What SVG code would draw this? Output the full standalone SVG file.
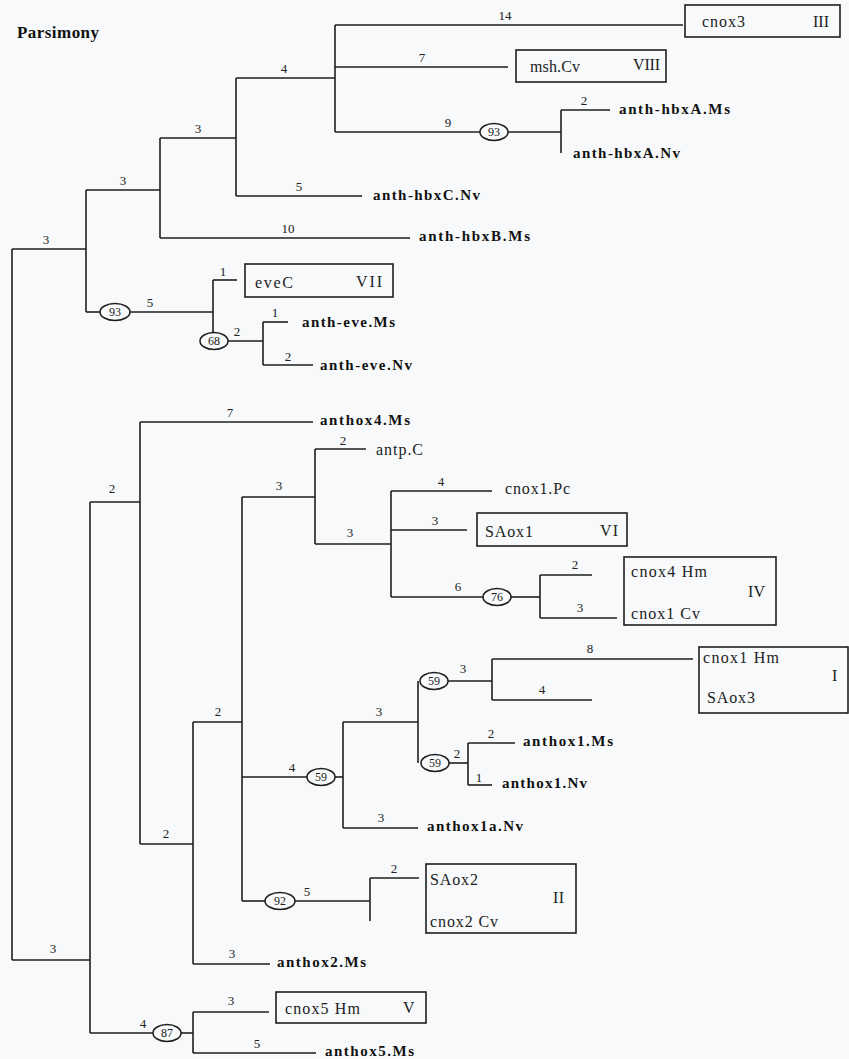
<svg xmlns="http://www.w3.org/2000/svg" width="849" height="1059" viewBox="0 0 849 1059" font-family="'Liberation Serif', 'Times New Roman', 'DejaVu Serif', serif">
<style>
.bg{fill:#f7f9fa}
.c path{stroke:#1e1e1e;stroke-width:1.6;fill:none}
text{font-family:'Liberation Serif','Times New Roman','DejaVu Serif',serif}
.n{font-size:13px;fill:#222;text-anchor:middle}
.lf{font-size:15px;font-weight:bold;fill:#111}
.tx{font-size:16px;fill:#222}
.box{fill:none;stroke:#1e1e1e;stroke-width:1.6}
.ov{fill:none;stroke:#1e1e1e;stroke-width:1.5}
.ot{font-size:12px;fill:#222;text-anchor:middle}
.title{font-size:17px;font-weight:bold;fill:#111}
</style>
<rect class="bg" x="0" y="0" width="849" height="1059"/>
<text class="title" x="17" y="38" textLength="82">Parsimony</text>

<g id="connectors" class="c">
<path d="M12,249 V960"/>
<path d="M12,249 H86"/>
<path d="M86,190 V312"/>
<path d="M86,190 H160"/>
<path d="M160,138 V238"/>
<path d="M160,138 H236"/>
<path d="M160,238 H410"/>
<path d="M236,78 V196"/>
<path d="M236,78 H335"/>
<path d="M236,196 H362"/>
<path d="M335,25 V132"/>
<path d="M335,25 H683"/>
<path d="M335,67 H508"/>
<path d="M335,132 H480"/>
<path d="M508,132 H561"/>
<path d="M561,110 V153"/>
<path d="M561,110 H610"/>
<path d="M86,312 H100"/>
<path d="M130,312 H213"/>
<path d="M213,280 V333"/>
<path d="M213,280 H237"/>
<path d="M228,341 H263"/>
<path d="M263,322 V365"/>
<path d="M263,322 H288"/>
<path d="M263,365 H313"/>
<path d="M12,960 H90"/>
<path d="M90,502 V1033"/>
<path d="M90,502 H140"/>
<path d="M140,422 V844"/>
<path d="M140,422 H313"/>
<path d="M140,844 H193"/>
<path d="M193,722 V964"/>
<path d="M193,722 H242"/>
<path d="M193,964 H270"/>
<path d="M242,497 V901"/>
<path d="M242,497 H315"/>
<path d="M315,449 V544"/>
<path d="M315,449 H366"/>
<path d="M315,544 H391"/>
<path d="M391,491 V597"/>
<path d="M391,491 H492"/>
<path d="M391,530 H467"/>
<path d="M391,597 H483"/>
<path d="M511,597 H540"/>
<path d="M540,575 V618"/>
<path d="M540,575 H592"/>
<path d="M540,618 H617"/>
<path d="M242,777 H307"/>
<path d="M335,777 H343"/>
<path d="M343,722 V828"/>
<path d="M343,722 H418"/>
<path d="M343,828 H418"/>
<path d="M418,681 V763"/>
<path d="M448,681 H492"/>
<path d="M492,659 V700"/>
<path d="M492,659 H693"/>
<path d="M492,700 H592"/>
<path d="M449,763 H468"/>
<path d="M468,743 V785"/>
<path d="M468,743 H515"/>
<path d="M468,785 H492"/>
<path d="M242,901 H265"/>
<path d="M295,901 H370"/>
<path d="M370,878 V921"/>
<path d="M370,878 H419"/>
<path d="M90,1033 H153"/>
<path d="M181,1033 H193"/>
<path d="M193,1012 V1053"/>
<path d="M193,1012 H269"/>
<path d="M193,1053 H316"/>
</g>

<g id="branch-lengths">
<text class="n" x="46" y="244">3</text>
<text class="n" x="123" y="185">3</text>
<text class="n" x="198" y="133">3</text>
<text class="n" x="288" y="233">10</text>
<text class="n" x="284" y="73">4</text>
<text class="n" x="299" y="191">5</text>
<text class="n" x="505" y="20">14</text>
<text class="n" x="422" y="62">7</text>
<text class="n" x="448" y="127">9</text>
<text class="n" x="584" y="105">2</text>
<text class="n" x="150" y="307">5</text>
<text class="n" x="223" y="276">1</text>
<text class="n" x="237" y="336">2</text>
<text class="n" x="275" y="317">1</text>
<text class="n" x="288" y="361">2</text>
<text class="n" x="53" y="953">3</text>
<text class="n" x="112" y="493">2</text>
<text class="n" x="230" y="417">7</text>
<text class="n" x="166" y="838">2</text>
<text class="n" x="218" y="716">2</text>
<text class="n" x="232" y="958">3</text>
<text class="n" x="279" y="490">3</text>
<text class="n" x="343" y="445">2</text>
<text class="n" x="350" y="537">3</text>
<text class="n" x="441" y="486">4</text>
<text class="n" x="435" y="525">3</text>
<text class="n" x="458" y="591">6</text>
<text class="n" x="575" y="569">2</text>
<text class="n" x="580" y="612">3</text>
<text class="n" x="292" y="772">4</text>
<text class="n" x="379" y="716">3</text>
<text class="n" x="381" y="822">3</text>
<text class="n" x="463" y="673">3</text>
<text class="n" x="590" y="653">8</text>
<text class="n" x="542" y="694">4</text>
<text class="n" x="457" y="758">2</text>
<text class="n" x="491" y="738">2</text>
<text class="n" x="479" y="782">1</text>
<text class="n" x="307" y="896">5</text>
<text class="n" x="394" y="873">2</text>
<text class="n" x="143" y="1028">4</text>
<text class="n" x="231" y="1005">3</text>
<text class="n" x="257" y="1048">5</text>
</g>

<g id="bootstrap">
<g id="bs93a"><ellipse class="ov" cx="494" cy="132" rx="14" ry="8.5"/><text class="ot" x="494" y="136">93</text></g>
<g id="bs93b"><ellipse class="ov" cx="115" cy="312" rx="15" ry="8.5"/><text class="ot" x="115" y="316">93</text></g>
<g id="bs68"><ellipse class="ov" cx="214" cy="341" rx="14" ry="8.5"/><text class="ot" x="214" y="345">68</text></g>
<g id="bs76"><ellipse class="ov" cx="497" cy="597" rx="14" ry="8.5"/><text class="ot" x="497" y="601">76</text></g>
<g id="bs59a"><ellipse class="ov" cx="321" cy="777" rx="14" ry="8.5"/><text class="ot" x="321" y="781">59</text></g>
<g id="bs59b"><ellipse class="ov" cx="434" cy="681" rx="14" ry="8.5"/><text class="ot" x="434" y="685">59</text></g>
<g id="bs59c"><ellipse class="ov" cx="435" cy="763" rx="14" ry="8.5"/><text class="ot" x="435" y="767">59</text></g>
<g id="bs92"><ellipse class="ov" cx="280" cy="901" rx="15" ry="8.5"/><text class="ot" x="280" y="905">92</text></g>
<g id="bs87"><ellipse class="ov" cx="167" cy="1033" rx="14" ry="8.5"/><text class="ot" x="167" y="1037">87</text></g>
</g>

<g id="cnox3-III"><rect class="box" x="685" y="5" width="155" height="32"/><text class="tx" x="702" y="27" textLength="43">cnox3</text><text class="tx" x="813" y="27" textLength="16">III</text></g>
<g id="mshCv-VIII"><rect class="box" x="516" y="50" width="150" height="32"/><text class="tx" x="530" y="72" textLength="50">msh.Cv</text><text class="tx" x="633" y="70" textLength="27">VIII</text></g>
<g id="anth-hbxA-Ms"><text class="lf" x="619" y="114" textLength="111">anth-hbxA.Ms</text></g>
<g id="anth-hbxA-Nv"><text class="lf" x="573" y="158" textLength="107">anth-hbxA.Nv</text></g>
<g id="anth-hbxC-Nv"><text class="lf" x="373" y="200" textLength="107">anth-hbxC.Nv</text></g>
<g id="anth-hbxB-Ms"><text class="lf" x="419" y="241" textLength="111">anth-hbxB.Ms</text></g>
<g id="eveC-VII"><rect class="box" x="245" y="264" width="148" height="33"/><text class="tx" x="255" y="288" textLength="38">eveC</text><text class="tx" x="356" y="287" textLength="26">VII</text></g>
<g id="anth-eve-Ms"><text class="lf" x="302" y="327" textLength="93">anth-eve.Ms</text></g>
<g id="anth-eve-Nv"><text class="lf" x="320" y="370" textLength="92">anth-eve.Nv</text></g>
<g id="anthox4-Ms"><text class="lf" x="320" y="425" textLength="90">anthox4.Ms</text></g>
<g id="antpC"><text class="tx" x="376" y="455" textLength="47">antp.C</text></g>
<g id="cnox1Pc"><text class="tx" x="505" y="494" textLength="65">cnox1.Pc</text></g>
<g id="SAox1-VI"><rect class="box" x="477" y="513" width="150" height="33"/><text class="tx" x="485" y="537" textLength="48">SAox1</text><text class="tx" x="600" y="536" textLength="18">VI</text></g>
<g id="cnox4-cnox1Cv-IV"><rect class="box" x="624" y="557" width="152" height="68"/><text class="tx" x="631" y="577" textLength="76">cnox4 Hm</text><text class="tx" x="748" y="597" textLength="17">IV</text><text class="tx" x="631" y="619" textLength="69">cnox1 Cv</text></g>
<g id="cnox1Hm-SAox3-I"><rect class="box" x="699" y="647" width="149" height="66"/><text class="tx" x="703" y="663" textLength="76">cnox1 Hm</text><text class="tx" x="832" y="681">I</text><text class="tx" x="707" y="703" textLength="48">SAox3</text></g>
<g id="anthox1-Ms"><text class="lf" x="523" y="746" textLength="90">anthox1.Ms</text></g>
<g id="anthox1-Nv"><text class="lf" x="502" y="788" textLength="85">anthox1.Nv</text></g>
<g id="anthox1a-Nv"><text class="lf" x="427" y="831" textLength="96">anthox1a.Nv</text></g>
<g id="SAox2-cnox2Cv-II"><rect class="box" x="426" y="864" width="150" height="69"/><text class="tx" x="430" y="885" textLength="48">SAox2</text><text class="tx" x="553" y="903" textLength="11">II</text><text class="tx" x="430" y="927" textLength="68">cnox2 Cv</text></g>
<g id="anthox2-Ms"><text class="lf" x="277" y="967" textLength="89">anthox2.Ms</text></g>
<g id="cnox5Hm-V"><rect class="box" x="276" y="992" width="150" height="31"/><text class="tx" x="285" y="1014" textLength="75">cnox5 Hm</text><text class="tx" x="403" y="1013" textLength="12">V</text></g>
<g id="anthox5-Ms"><text class="lf" x="325" y="1056" textLength="89">anthox5.Ms</text></g>
</svg>
